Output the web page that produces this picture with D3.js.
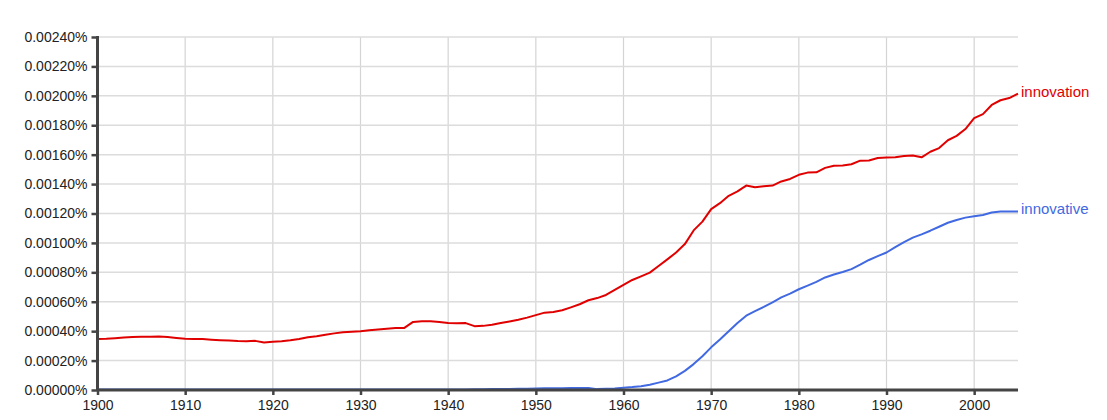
<!DOCTYPE html>
<html>
<head>
<meta charset="utf-8">
<script src="https://cdn.jsdelivr.net/npm/d3@7"></script>
<style>
  html, body { margin: 0; padding: 0; background: #fff; }
  svg { display: block; }
  text { font-family: "Liberation Sans", Arial, Helvetica, sans-serif; }
</style>
</head>
<body>
<svg id="chart" width="1107" height="420"></svg>
<script>
// Values are in units of 0.00001 %
const years = d3.range(1900, 2006);
const innovation = [
  34.6, 34.8, 35.2, 35.7, 36.0, 36.2, 36.2, 36.4, 36.0, 35.4,
  34.8, 34.6, 34.6, 34.2, 33.9, 33.7, 33.3, 33.2, 33.4, 32.3,
  32.8, 33.1, 33.8, 34.7, 35.8, 36.6, 37.6, 38.5, 39.2, 39.6,
  40.0, 40.6, 41.2, 41.6, 42.1, 42.2, 46.3, 46.8, 46.8, 46.2,
  45.6, 45.4, 45.5, 43.4, 43.6, 44.3, 45.5, 46.6, 47.8, 49.2,
  50.9, 52.6, 53.0, 54.2, 56.2, 58.3, 61.0, 62.5, 64.6, 68.0,
  71.5, 74.8, 77.3, 79.8, 84.3, 88.8, 93.5, 99.2, 108.5, 114.5,
  123.0, 127.0, 132.0, 135.0, 139.0, 137.9, 138.5, 139.0, 141.8, 143.5,
  146.3, 147.8, 148.0, 151.0, 152.5, 152.6, 153.5, 155.9, 156.0, 157.7,
  158.0, 158.3, 159.1, 159.4, 158.2, 162.0, 164.5, 169.8, 172.8, 177.4,
  184.8, 187.6, 193.8, 197.0, 198.5, 201.5
];
const innovative = [
  0.3, 0.3, 0.3, 0.3, 0.3, 0.3, 0.3, 0.3, 0.3, 0.3,
  0.3, 0.3, 0.3, 0.3, 0.3, 0.3, 0.3, 0.3, 0.3, 0.3,
  0.3, 0.3, 0.3, 0.3, 0.3, 0.3, 0.3, 0.3, 0.3, 0.3,
  0.3, 0.3, 0.3, 0.3, 0.3, 0.3, 0.3, 0.3, 0.3, 0.3,
  0.3, 0.3, 0.4, 0.5, 0.5, 0.6, 0.6, 0.7, 0.8, 0.9,
  1.1, 1.2, 1.2, 1.2, 1.3, 1.3, 1.4, 0.6, 0.8, 1.1,
  1.6, 2.0, 2.6, 3.6, 5.0, 6.5, 9.3, 13.0, 17.6, 23.0,
  29.0, 34.3, 40.0, 45.5, 50.5, 53.6, 56.5, 59.6, 63.0, 65.5,
  68.5, 71.0, 73.5, 76.5, 78.5, 80.2, 82.2, 85.2, 88.4, 91.0,
  93.5, 97.2, 100.6, 103.6, 105.8, 108.3, 111.0, 113.7, 115.6, 117.2,
  118.2, 119.0, 120.7, 121.3, 121.4, 121.4
];
const seriesNames = ["innovation", "innovative"];
const seriesColors = ["#e00000", "#4169e1"];
const yTicks = d3.range(0, 241, 20);
const xTicks = d3.range(1900, 2001, 10);

const svg = d3.select("#chart");
const mLeft = 97.5, mRight = 1018, mTop = 37, mBottom = 390;

const x = d3.scaleLinear().domain([1900, 2005]).range([mLeft, mRight]);
const y = d3.scaleLinear().domain([0, 240]).range([mBottom, mTop]);

// gridlines
svg.append("g").selectAll("line").data(xTicks.slice(1)).join("line")
  .attr("x1", d => x(d)).attr("x2", d => x(d))
  .attr("y1", mTop).attr("y2", mBottom)
  .attr("stroke", "#d4d4d4").attr("stroke-width", 1.2);
svg.append("g").selectAll("line").data(yTicks.slice(1)).join("line")
  .attr("x1", mLeft).attr("x2", mRight)
  .attr("y1", d => y(d)).attr("y2", d => y(d))
  .attr("stroke", "#dcdcdc").attr("stroke-width", 1.5);

// lines
const series = [innovation, innovative];
const line = d3.line().x((d, i) => x(years[i])).y(d => y(d));
series.forEach((s, k) => {
  svg.append("path").datum(s)
    .attr("fill", "none")
    .attr("stroke", seriesColors[k])
    .attr("stroke-width", 2)
    .attr("stroke-linejoin", "round")
    .attr("d", line);
});

// axes
const fmt = d => (d * 1e-5).toFixed(5) + "%";
const yAxis = svg.append("g").attr("transform", `translate(${mLeft},0)`)
  .call(d3.axisLeft(y).tickValues(yTicks).tickFormat(fmt).tickSize(6).tickPadding(4));
const xAxis = svg.append("g").attr("transform", `translate(0,${mBottom})`)
  .call(d3.axisBottom(x).tickValues(xTicks).tickFormat(d3.format("d")).tickSize(5).tickPadding(5));

[yAxis, xAxis].forEach(a => {
  a.attr("font-family", null).attr("font-size", null);
  a.select(".domain").attr("stroke", "#444").attr("stroke-width", 3);
  a.selectAll(".tick line").attr("stroke", "#444").attr("stroke-width", 2.5);
  a.selectAll(".tick text")
    .style("fill", "#222")
    .style("font-size", "14px")
    .style("font-family", "'Liberation Sans', Arial, sans-serif");
});
yAxis.select(".domain").attr("d", `M0,${mTop - 1}V${mBottom}`);
xAxis.select(".domain").attr("d", `M${mLeft},0H${mRight}`);

// labels
series.forEach((s, k) => {
  svg.append("text")
    .attr("x", mRight + 3)
    .attr("y", y(s[s.length - 1]) + 3)
    .style("fill", seriesColors[k])
    .style("font-size", "15px")
    .text(seriesNames[k]);
});
</script>
</body>
</html>
